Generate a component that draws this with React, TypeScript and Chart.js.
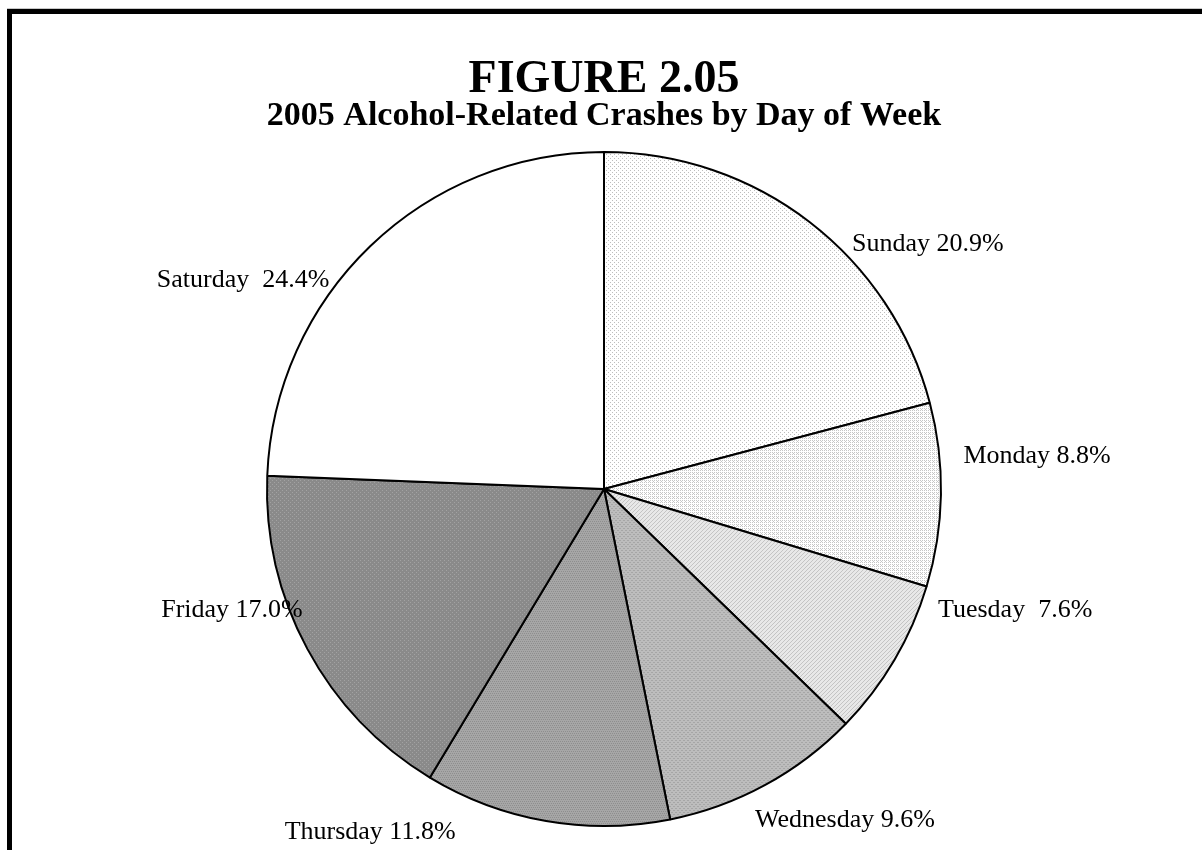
import React, { useEffect, useRef } from "react";
import { Chart, registerables } from "chart.js";

Chart.register(...registerables);

// ---- data ----
const days = ["Sunday", "Monday", "Tuesday", "Wednesday", "Thursday", "Friday", "Saturday"];
const percents = [20.9, 8.8, 7.6, 9.6, 11.8, 17.0, 24.4];
const labelSeparators = [" ", " ", "  ", " ", " ", " ", "  "];
const titleText = "FIGURE 2.05";
const subtitleText = "2005 Alcohol-Related Crashes by Day of Week";

// ---- label placement (relative to pie centre, in units of the radius) ----
const labelOffsets: [number, number][] = [
  [0.961, -0.727],
  [1.285, -0.098],
  [1.22, 0.359],
  [0.715, 0.982],
  [-0.694, 1.018],
  [-1.104, 0.359],
  [-1.071, -0.62],
];

// ---- fill styles (dithered greys) ----
type PatternSpec = { base: string; dot: string; cells: [number, number][] };
const fillSpecs: PatternSpec[] = [
  { base: "#ffffff", dot: "#bdbdbd", cells: [[0, 0], [2, 2]] },
  { base: "#ffffff", dot: "#c6c6c6", cells: [[0, 0], [2, 0], [0, 2], [2, 2], [1, 1]] },
  { base: "#e8e8e8", dot: "#c4c4c4", cells: [[0, 0], [2, 2], [1, 3], [3, 1]] },
  { base: "#bdbdbd", dot: "#a6a6a6", cells: [[0, 0], [2, 2], [1, 2], [3, 0]] },
  { base: "#a6a6a6", dot: "#8e8e8e", cells: [[0, 1], [2, 1], [1, 3], [3, 3]] },
  { base: "#8a8a8a", dot: "#a2a2a2", cells: [[0, 0], [2, 2]] },
  { base: "#ffffff", dot: "#ffffff", cells: [] },
];

function makePattern(ctx: CanvasRenderingContext2D, spec: PatternSpec): CanvasPattern | string {
  const c = document.createElement("canvas");
  c.width = 4;
  c.height = 4;
  const g = c.getContext("2d");
  if (!g) return spec.base;
  g.fillStyle = spec.base;
  g.fillRect(0, 0, 4, 4);
  g.fillStyle = spec.dot;
  spec.cells.forEach(([x, y]) => g.fillRect(x, y, 1, 1));
  return ctx.createPattern(c, "repeat") || spec.base;
}

const FONT_FAMILY = "'Liberation Serif', 'Times New Roman', serif";

const sliceLabelPlugin = {
  id: "sliceLabels",
  afterDatasetsDraw(chart: any) {
    const meta = chart.getDatasetMeta(0);
    const ctx = chart.ctx as CanvasRenderingContext2D;
    ctx.save();
    ctx.fillStyle = "#000";
    ctx.font = `26px ${FONT_FAMILY}`;
    ctx.textAlign = "center";
    ctx.textBaseline = "middle";
    meta.data.forEach((arc: any, i: number) => {
      const { x, y, outerRadius } = arc.getProps(["x", "y", "outerRadius"], true);
      const [fx, fy] = labelOffsets[i];
      const text = `${days[i]}${labelSeparators[i]}${percents[i].toFixed(1)}%`;
      ctx.fillText(text, x + fx * outerRadius, y + fy * outerRadius);
    });
    ctx.restore();
  },
};

export default function App() {
  const canvasRef = useRef<HTMLCanvasElement | null>(null);

  useEffect(() => {
    const canvas = canvasRef.current;
    if (!canvas) return;
    const ctx = canvas.getContext("2d");
    if (!ctx) return;
    const fills = fillSpecs.map((s) => makePattern(ctx, s));
    const chart = new Chart(canvas, {
      type: "pie",
      data: {
        labels: days,
        datasets: [
          {
            data: percents,
            backgroundColor: fills as any,
            borderColor: "#000000",
            borderWidth: 2,
            hoverOffset: 0,
            radius: 337,
          } as any,
        ],
      },
      options: {
        responsive: false,
        animation: false,
        events: [],
        layout: { padding: { top: 0, bottom: 5, left: 6, right: 0 } },
        plugins: {
          legend: { display: false },
          tooltip: { enabled: false },
          title: {
            display: true,
            text: titleText,
            color: "#000",
            font: { family: FONT_FAMILY, size: 46, weight: "bold", lineHeight: 1 },
            padding: { top: 57, bottom: -4 },
          },
          subtitle: {
            display: true,
            text: subtitleText,
            color: "#000",
            font: { family: FONT_FAMILY, size: 34, weight: "bold", lineHeight: 1 },
            padding: { top: 0, bottom: 0 },
          },
        },
      } as any,
      plugins: [sliceLabelPlugin],
    });
    return () => chart.destroy();
  }, []);

  return (
    <div
      style={{
        position: "fixed",
        left: 0,
        top: 0,
        width: 1202,
        height: 850,
        overflow: "hidden",
        background: "#fff",
      }}
    >
      <canvas ref={canvasRef} width={1202} height={850} style={{ position: "absolute", left: 0, top: 0 }} />
      <div
        style={{
          position: "absolute",
          left: 7,
          top: 9,
          width: 1400,
          height: 1100,
          border: "5px solid #000",
          boxShadow: "0 -1px 0 #c8c8c8",
          pointerEvents: "none",
        }}
      />
    </div>
  );
}
